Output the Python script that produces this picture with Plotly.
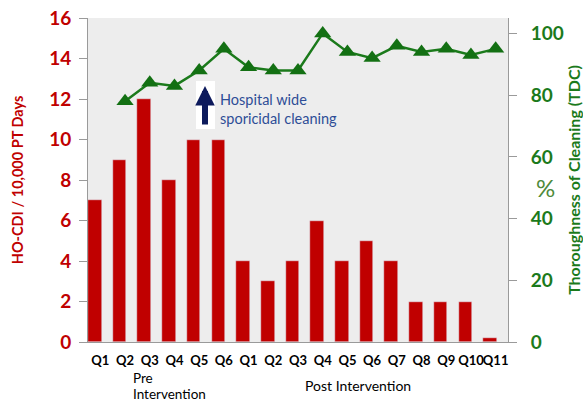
import plotly.graph_objects as go

# Quarter labels (pre-intervention Q1-Q6, post-intervention Q1-Q11)
quarters = ["Q1", "Q2", "Q3", "Q4", "Q5", "Q6",
            "Q1", "Q2", "Q3", "Q4", "Q5", "Q6", "Q7", "Q8", "Q9", "Q10", "Q11"]
# HO-CDI rate per 10,000 patient days
cdi_rate = [7, 9, 12, 8, 10, 10, 4, 3, 4, 6, 4, 5, 4, 2, 2, 2, 0.2]
# Thoroughness of cleaning (%), first quarter not measured
tdc_pct = [None, 78, 84, 83, 88, 95, 89, 88, 88, 100, 94, 92, 96, 94, 95, 93, 95]

left_ticks = [0, 2, 4, 6, 8, 10, 12, 14, 16]
right_ticks = [0, 20, 40, 60, 80, 100]

RED = "#C00000"
GREEN = "#1B7A1B"
FONT = "Lato"

W, H = 583, 403
ML, MR, MT, MB = 88, 75, 18, 61
PW, PH = W - ML - MR, H - MT - MB


def px(x):
    return (x - ML) / PW


def py(y):
    return (H - MB - y) / PH


xs = list(range(len(quarters)))

fig = go.Figure()
fig.add_trace(go.Bar(
    x=xs, y=cdi_rate, marker_color=RED, width=0.55, offset=-0.5,
    yaxis="y", showlegend=False,
))
fig.add_trace(go.Scatter(
    x=xs, y=tdc_pct, yaxis="y2", mode="lines+markers",
    line=dict(color=GREEN, width=2.5),
    marker=dict(symbol="triangle-up", size=15, color="#137013"),
    showlegend=False, connectgaps=False,
))

fig.update_layout(
    width=W, height=H,
    margin=dict(l=ML, r=MR, t=MT, b=MB, autoexpand=False),
    paper_bgcolor="white",
    plot_bgcolor="#EDEDED",
    font=dict(family=FONT),
    bargap=0,
    xaxis=dict(
        range=[-0.5, 16.5], tickmode="array", tickvals=xs, ticktext=quarters,
        tickangle=0, automargin=False,
        tickfont=dict(size=13, color="black", family=FONT, weight="bold"),
        showgrid=False, zeroline=False, showline=True, linecolor="#9a9a9a",
        ticks="", ticklabelstandoff=6, fixedrange=True,
    ),
    yaxis=dict(
        range=[0, 16], tickmode="array", tickvals=left_ticks, automargin=False,
        tickfont=dict(size=19, color=RED, family=FONT, weight="bold"),
        showgrid=False, zeroline=False, showline=True, linecolor="#9a9a9a",
        ticks="outside", ticklen=8, tickcolor="#9a9a9a", ticklabelstandoff=4,
        title=dict(text="HO-CDI / 10,000 PT Days",
                   font=dict(size=14.5, color=RED, family=FONT, weight="bold"),
                   standoff=22),
    ),
    yaxis2=dict(
        range=[0, 105], overlaying="y", side="right", tickmode="array",
        tickvals=right_ticks, automargin=False,
        tickfont=dict(size=19, color=GREEN, family=FONT, weight="bold"),
        showgrid=False, zeroline=False, showline=True, linecolor="#9a9a9a",
        ticks="outside", ticklen=8, tickcolor="#9a9a9a", ticklabelstandoff=10,
        title=dict(text="Thoroughness of Cleaning (TDC)",
                   font=dict(size=16, color=GREEN, family=FONT, weight="bold"),
                   standoff=14),
    ),
)

# Intervention marker: arrow on a white card, with caption
fig.add_shape(type="rect", xref="paper", yref="paper",
              x0=px(196), x1=px(215), y0=py(129), y1=py(81),
              fillcolor="white", line=dict(width=0), layer="above")
fig.add_annotation(x=px(205), y=py(86), ax=0, ay=40, xref="paper",
                   yref="paper", axref="pixel", ayref="pixel", text="",
                   showarrow=True, arrowhead=2, arrowsize=0.65, arrowwidth=6,
                   arrowcolor="#0D1A5C")
fig.add_annotation(x=px(218), y=py(109), xref="paper", yref="paper", xanchor="left",
                   yanchor="middle", align="left", showarrow=False,
                   text="Hospital wide<br>sporicidal cleaning",
                   font=dict(size=14.5, color="#2E4D97", family=FONT))

# Period labels under the quarter axis
period_font = dict(size=13.5, color="black", family=FONT)
fig.add_annotation(x=px(131), y=py(378), xref="paper", yref="paper",
                   text="Pre", showarrow=False, xanchor="left",
                   yanchor="middle", font=period_font)
fig.add_annotation(x=px(131), y=py(394), xref="paper", yref="paper",
                   text="Intervention", showarrow=False, xanchor="left",
                   yanchor="middle", font=period_font)
fig.add_annotation(x=px(358), y=py(385), xref="paper", yref="paper",
                   text="Post Intervention", showarrow=False, xanchor="center",
                   yanchor="middle", font=dict(size=14, color="black", family=FONT))
fig.add_annotation(x=px(545), y=py(187), xref="paper", yref="paper", text="%",
                   showarrow=False, xanchor="center", yanchor="middle",
                   font=dict(size=24, color="#4E8A3A", family=FONT))

fig.write_html("out.html")
